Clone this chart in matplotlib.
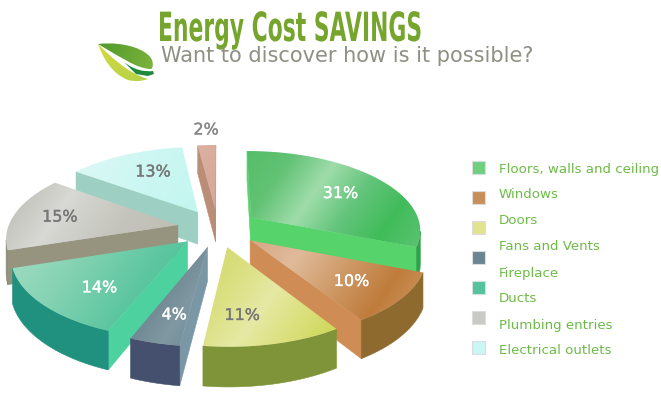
#!/usr/bin/env python3
"""Energy cost savings: exploded perspective pie drawn with polygons."""
import numpy as np
import matplotlib

matplotlib.use("Agg")
import matplotlib.pyplot as plt
from matplotlib.colors import LinearSegmentedColormap
from matplotlib.patches import PathPatch, Polygon, Rectangle
from matplotlib.path import Path
from matplotlib.patheffects import AbstractPathEffect, withStroke
from matplotlib.transforms import Affine2D

TITLE = "Energy Cost SAVINGS"
SUBTITLE = "Want to discover how is it possible?"
categories = ["Floors, walls and ceiling", "Windows", "Doors", "Fans and Vents",
              "Fireplace", "Ducts", "Plumbing entries", "Electrical outlets"]
values = [31, 10, 11, 4, 14, 15, 13, 2]
swatch_colors = ["#6fcf7f", "#c89058", "#dfe58f", "#6b8593", "#55c39c", "#c9c9c5", "#c9f7f1"]

top_stops = [
    ["#55be68", "#62c275", "#9fdcaa", "#62c47a", "#41bc5a", "#5cc272"],
    ["#d8a684", "#e0bb9b", "#cf9a68", "#bf7c3c", "#cf9c62"],
    ["#d2d868", "#dadf80", "#e5e9a4", "#dadf78", "#c9d650"],
    ["#64808c", "#6a838e", "#7f98a2", "#6e8a97"],
    ["#a4ddc4", "#84d2b2", "#5cc6a0", "#47c096"],
    ["#b9b9b1", "#d8d8d4", "#c4c4bc", "#bdbdb3"],
    ["#def9f6", "#cdf7f2", "#c3f6ef"],
    ["#dcb0a0", "#d4a898"],
]
wall_colors = ["#56d36a", "#d08c55", "#b9cc5a", "#7a97a6", "#4dd19e", "#96937f", "#9dcfc3", "#b98d76"]
rim_colors = ["#2fa24a", "#8f6a2f", "#7f9438", "#454f6e", "#20917f", "#8c8a78", "#9dcfc3", "#b98d76"]
label_colors = ["white", "white", "#777777", "white", "white", "#777777", "#777777", "#888888"]
label_radius = [0.64, 0.66, 0.62, 0.70, 0.62, 0.66, 0.66, 1.22]
label_nudge = [(7, 2), (5, 4), (-12, 12), (2, 4), (-2, 9), (-10, 0), (5, -1), (1, -3)]

CX, CY = 218, 228
RX, RY = 170, 79
DEPTH = 33
PERSP = 0.145
EXPLODE = 0.24


class SqueezeX(AbstractPathEffect):
    """Narrows a text run horizontally around x0, no condensed font is installed."""

    def __init__(self, x0, factor):
        super().__init__()
        self.x0 = x0
        self.factor = factor

    def draw_path(self, renderer, gc, tpath, affine, rgbFace=None):
        squeeze = Affine2D().translate(-self.x0, 0).scale(self.factor, 1).translate(self.x0, 0)
        renderer.draw_path(gc, tpath, affine + squeeze, rgbFace)


def project(x, y, z=0.0):
    s = 1.0 / (1.0 + PERSP * y)
    return np.column_stack((CX + RX * x * s, CY - RY * y * s + DEPTH * z * s))


def signed_area(pts):
    x, y = pts[:, 0], pts[:, 1]
    return 0.5 * np.sum(x * np.roll(y, -1) - np.roll(x, -1) * y)


def gradient_fill(ax, verts, stops, angle, zorder):
    """Polygon filled by an image gradient running along angle (degrees, screen)."""
    x0, y0 = verts.min(axis=0)
    x1, y1 = verts.max(axis=0)
    w, h = max(int(x1 - x0), 2), max(int(y1 - y0), 2)
    gx, gy = np.meshgrid(np.linspace(0, 1, w) * w, np.linspace(0, 1, h) * h)
    a = np.deg2rad(angle)
    t = gx * np.cos(a) + gy * np.sin(a)
    t = (t - t.min()) / max(np.ptp(t), 1e-6)
    cmap = LinearSegmentedColormap.from_list("g", stops)
    im = ax.imshow(cmap(t), extent=(x0, x1, y1, y0), aspect="auto", zorder=zorder,
                   interpolation="bilinear")
    patch = Polygon(verts, closed=True, transform=ax.transData, facecolor="none", edgecolor="none")
    ax.add_patch(patch)
    im.set_clip_path(patch)


def draw_slice(ax, th0, th1, idx, zorder):
    mid = np.deg2rad((th0 + th1) / 2)
    ox, oy = EXPLODE * np.sin(mid), EXPLODE * np.cos(mid)
    th = np.deg2rad(np.linspace(th0, th1, 60))
    ex, ey = ox + np.sin(th), oy + np.cos(th)
    rim_top, rim_bot = project(ex, ey), project(ex, ey, 1.0)
    apex_top, apex_bot = project(np.array([ox]), np.array([oy])), project(np.array([ox]), np.array([oy]), 1.0)

    # radial walls, only when they turn towards the viewer
    for a_t, a_b, sign in ((rim_top[-1], rim_bot[-1], 1), (rim_top[0], rim_bot[0], -1)):
        wall = np.vstack((apex_top, a_t, a_b, apex_bot))
        if sign * signed_area(wall) > 0:
            ax.add_patch(Polygon(wall, closed=True, facecolor=wall_colors[idx], edgecolor=wall_colors[idx],
                                 linewidth=0.4, zorder=zorder))

    # outer wall, visible part of the arc
    seg = np.arange(len(th) - 1)
    vis = [i for i in seg if signed_area(np.vstack((rim_top[i], rim_top[i + 1], rim_bot[i + 1], rim_bot[i]))) < 0]
    if vis:
        i0, i1 = vis[0], vis[-1] + 1
        rim = np.vstack((rim_top[i0:i1 + 1], rim_bot[i0:i1 + 1][::-1]))
        dark = rim_colors[idx]
        ax.add_patch(Polygon(rim, closed=True, facecolor=dark, edgecolor=dark, linewidth=0.4, zorder=zorder + 0.1))

    top = np.vstack((apex_top, rim_top))
    gradient_fill(ax, top, top_stops[idx], 35, zorder + 0.2)
    return ox, oy


def draw_leaf(ax):
    upper = Path([(98, 44), (125, 41), (148, 50), (152, 60), (154, 66), (152, 70), (150, 69),
                  (136, 68), (122, 58), (98, 44)],
                 [1, 4, 4, 4, 4, 4, 4, 4, 4, 4])
    lower = Path([(98, 44), (103, 58), (112, 74), (128, 80), (136, 82), (142, 81), (148, 79),
                  (128, 73), (112, 58), (98, 44)],
                 [1, 4, 4, 4, 4, 4, 4, 4, 4, 4])
    for path, stops, angle in ((upper, ["#4f9a2c", "#7db33c"], 20), (lower, ["#d6d93e", "#b3d24a"], 60)):
        verts = path.vertices
        x0, y0 = verts.min(axis=0)
        x1, y1 = verts.max(axis=0)
        gx, gy = np.meshgrid(np.arange(int(x1 - x0) + 1), np.arange(int(y1 - y0) + 1))
        a = np.deg2rad(angle)
        t = gx * np.cos(a) + gy * np.sin(a)
        t = t / np.ptp(t)
        im = ax.imshow(LinearSegmentedColormap.from_list("l", stops)(t), extent=(x0, x1, y1, y0),
                       aspect="auto", zorder=5)
        clip = PathPatch(path, facecolor="none", edgecolor="none", transform=ax.transData)
        ax.add_patch(clip)
        im.set_clip_path(clip)
    dark = Path([(124, 62), (134, 70), (144, 72), (153, 71), (154, 74), (148, 76), (136, 74), (124, 62)],
                [1, 4, 4, 4, 2, 2, 2, 2])
    ax.add_patch(PathPatch(dark, facecolor="#1f8a3c", edgecolor="none", zorder=6))


def main() -> int:
    fig = plt.figure(figsize=(6.61, 3.96), dpi=100)
    ax = fig.add_axes([0, 0, 1, 1])

    edges = np.concatenate(([0], np.cumsum(values))) * 3.6
    # painter's order, back slices first
    order = [7, 6, 5, 0, 4, 1, 3, 2]
    centers = {}
    for z, idx in enumerate(order):
        centers[idx] = draw_slice(ax, edges[idx], edges[idx + 1], idx, 10 + z)

    for idx, val in enumerate(values):
        mid = np.deg2rad((edges[idx] + edges[idx + 1]) / 2)
        ox, oy = centers[idx]
        r = label_radius[idx]
        pos = project(np.array([ox + r * np.sin(mid)]), np.array([oy + r * np.cos(mid)]))[0]
        dx, dy = label_nudge[idx]
        ax.text(pos[0] + dx, pos[1] + dy, f"{val}%", color=label_colors[idx], fontsize=11.5, ha="center",
                va="center", zorder=40, path_effects=[withStroke(linewidth=0.25, foreground=label_colors[idx])])

    draw_leaf(ax)
    ax.text(158, 41, TITLE, color="#76a52d", fontsize=29, family="Liberation Sans Narrow", fontweight="bold",
            ha="left", va="baseline", zorder=7, path_effects=[SqueezeX(158, 0.543)])
    ax.text(161, 62, SUBTITLE, color="#8e9083", fontsize=15.0, ha="left", va="baseline", zorder=7)

    for i, col in enumerate(swatch_colors):
        ax.add_patch(Rectangle((471.5, 160.5 + 30 * i), 13, 13, facecolor=col, edgecolor="#dddddd", linewidth=0.8))
    for i, name in enumerate(categories):
        ax.text(499, 169 + 26 * i, name, color="#6dbb47", fontsize=9.6, ha="left", va="center")

    ax.set_xlim(0, 661)
    ax.set_ylim(396, 0)
    ax.axis("off")
    fig.savefig("out.png", dpi=100)
    plt.close(fig)
    return 0


if __name__ == "__main__":
    raise SystemExit(main())
